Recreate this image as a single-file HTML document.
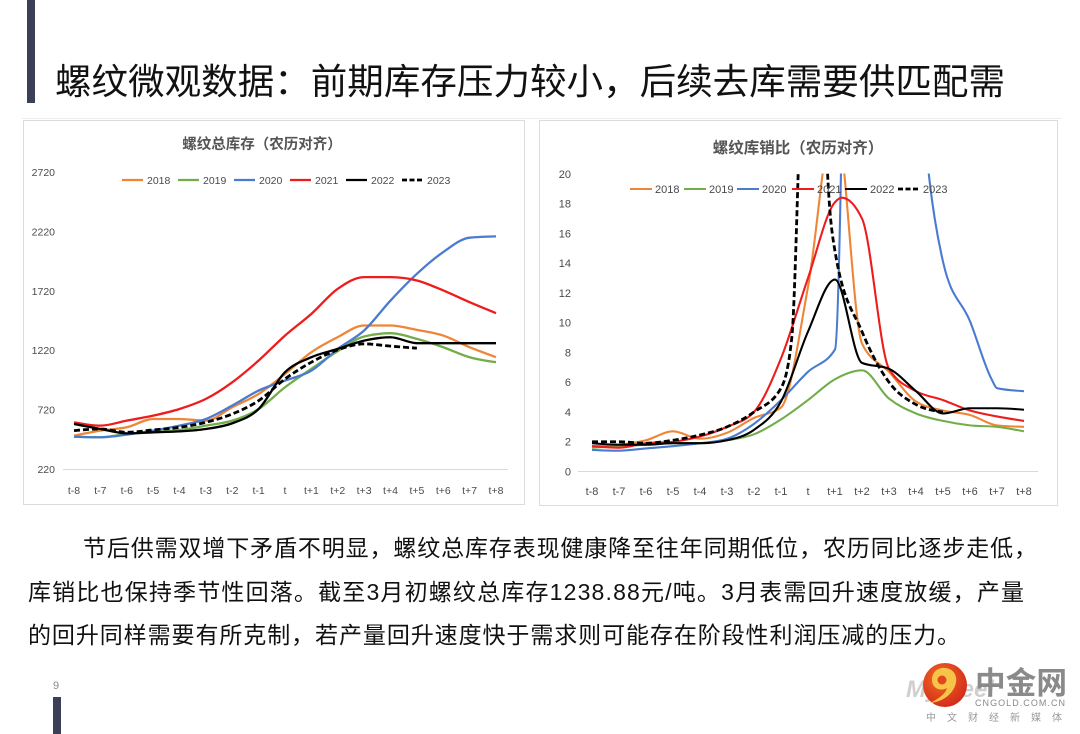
<!DOCTYPE html>
<html><head><meta charset="utf-8">
<style>
html,body{margin:0;padding:0;background:#fff;}
body{width:1080px;height:734px;overflow:hidden;position:relative;}
svg{position:absolute;left:0;top:0;}
</style></head>
<body>
<svg id="s" width="1080" height="734" viewBox="0 0 1080 734" xmlns="http://www.w3.org/2000/svg">
<defs>
  <clipPath id="cr"><rect x="578" y="173.5" width="462" height="300"/></clipPath>
  <clipPath id="cl"><rect x="60" y="160" width="450" height="312"/></clipPath>
  <radialGradient id="lg" cx="0.4" cy="0.35" r="0.7">
    <stop offset="0" stop-color="#f26b22"/><stop offset="1" stop-color="#d2281a"/>
  </radialGradient>
</defs>
<rect x="0" y="0" width="1080" height="734" fill="#fff"/>
<!-- header -->
<rect x="27" y="0" width="8" height="103" fill="#3c3f58"/>
<text x="55" y="94" font-family="'Liberation Sans','Noto Sans CJK SC',sans-serif" font-size="36" fill="#111" textLength="950" lengthAdjust="spacingAndGlyphs">螺纹微观数据：前期库存压力较小，后续去库需要供匹配需</text>
<line x1="22" y1="118.5" x2="1062" y2="118.5" stroke="#ececec" stroke-width="1"/>

<!-- chart boxes -->
<rect x="23.5" y="120.5" width="501" height="384" fill="#fff" stroke="#dcdcdc" stroke-width="1"/>
<rect x="539.5" y="120.5" width="518" height="385" fill="#fff" stroke="#dcdcdc" stroke-width="1"/>

<g id="left" font-family="'Liberation Sans','Noto Sans CJK SC',sans-serif" fill="#4a4a4a">
  <text x="262" y="149" font-size="14.5" font-weight="bold" text-anchor="middle" fill="#555">螺纹总库存（农历对齐）</text>
</g>
<g id="right" font-family="'Liberation Sans','Noto Sans CJK SC',sans-serif" fill="#4a4a4a">
  <text x="798" y="153" font-size="15.5" font-weight="bold" text-anchor="middle" fill="#555">螺纹库销比（农历对齐）</text>
</g>

<!-- paragraph -->
<g font-family="'Liberation Sans','Noto Sans CJK SC',sans-serif" font-size="23" fill="#111">
  <text x="83" y="556" textLength="954" lengthAdjust="spacing">节后供需双增下矛盾不明显，螺纹总库存表现健康降至往年同期低位，农历同比逐步走低，</text>
  <text x="28" y="600" textLength="996" lengthAdjust="spacing">库销比也保持季节性回落。截至3月初螺纹总库存1238.88元/吨。3月表需回升速度放缓，产量</text>
  <text x="28" y="643" textLength="932" lengthAdjust="spacing">的回升同样需要有所克制，若产量回升速度快于需求则可能存在阶段性利润压减的压力。</text>
</g>

<!-- footer -->
<text x="56" y="689" font-family="'Liberation Sans',sans-serif" font-size="11" fill="#888" text-anchor="middle">9</text>
<rect x="53" y="697" width="8" height="37" fill="#3c3f58"/>

<!-- logo -->
<text x="906" y="697" font-family="'Liberation Sans',sans-serif" font-size="24" font-weight="bold" font-style="italic" fill="#cfcfcf">Mysteel</text>
<circle cx="945" cy="685" r="22" fill="url(#lg)"/>
<path d="M942 668 C953 667 959 676 955 686 C951 696 941 702 930 703 C940 698 946 693 947 688 C940 692 932 688 932 680 C932 673 936 669 942 668 Z" fill="#f7c44a"/>
<circle cx="942" cy="680" r="4.5" fill="#e2461f"/>
<text x="975" y="694" font-family="'Noto Sans CJK SC',sans-serif" font-size="31" font-weight="bold" fill="#8a8a8a" textLength="92" lengthAdjust="spacingAndGlyphs">中金网</text>
<text x="975" y="706" font-family="'Liberation Sans',sans-serif" font-size="9" fill="#8a8a8a" textLength="90" lengthAdjust="spacing">CNGOLD.COM.CN</text>
<text x="926" y="721" font-family="'Noto Sans CJK SC',sans-serif" font-size="10" fill="#9a9a9a" textLength="136" lengthAdjust="spacing">中文财经新媒体</text>
</svg>

<script>
(function(){
var NS="http://www.w3.org/2000/svg";
var svg=document.getElementById('s');
function el(tag,attrs,parent,txt){var e=document.createElementNS(NS,tag);for(var k in attrs)e.setAttribute(k,attrs[k]);if(txt!==undefined)e.textContent=txt;(parent||svg).appendChild(e);return e;}
function slope3(x0,y0,x1,y1,x2,y2){var h0=x1-x0,h1=x2-x1,s0=(y1-y0)/h0,s1=(y2-y1)/h1,p=(s0*h1+s1*h0)/(h0+h1);return ((Math.sign(s0)+Math.sign(s1))*Math.min(Math.abs(s0),Math.abs(s1),0.5*Math.abs(p)))||0;}
function mono(pts){
  var n=pts.length,m=new Array(n),i;
  for(i=1;i<n-1;i++)m[i]=slope3(pts[i-1][0],pts[i-1][1],pts[i][0],pts[i][1],pts[i+1][0],pts[i+1][1]);
  var h=pts[1][0]-pts[0][0];m[0]=(3*(pts[1][1]-pts[0][1])/h-m[1])/2;
  h=pts[n-1][0]-pts[n-2][0];m[n-1]=(3*(pts[n-1][1]-pts[n-2][1])/h-m[n-2])/2;
  if(n==2){m[0]=m[1]=(pts[1][1]-pts[0][1])/h;}
  var d="M"+pts[0][0].toFixed(2)+","+pts[0][1].toFixed(2);
  for(i=0;i<n-1;i++){var x0=pts[i][0],y0=pts[i][1],x1=pts[i+1][0],y1=pts[i+1][1],dx=(x1-x0)/3;
    d+="C"+(x0+dx).toFixed(2)+","+(y0+dx*m[i]).toFixed(2)+","+(x1-dx).toFixed(2)+","+(y1-dx*m[i+1]).toFixed(2)+","+x1.toFixed(2)+","+y1.toFixed(2);}
  return d;
}
var COL={a:"#ef8537",b:"#72ad4a",c:"#4a7bcf",d:"#ee1c1c",e:"#000000",f:"#000000"};
var names=["2018","2019","2020","2021","2022","2023"],keys=["a","b","c","d","e","f"];
var xl=["t-8","t-7","t-6","t-5","t-4","t-3","t-2","t-1","t","t+1","t+2","t+3","t+4","t+5","t+6","t+7","t+8"];
function arr(a){return a.map(function(v,i){return [i-8,v];});}

/* LEFT CHART */
var gL=document.getElementById('left');
var LX=function(i){return 74+(i+8)*26.375;},LY=function(v){return 469-(v-220)*0.1188;};
[2720,2220,1720,1220,720,220].forEach(function(v){el('text',{x:55,y:(LY(v)+4).toFixed(1),'font-size':10.5,'text-anchor':'end'},gL,String(v));});
el('line',{x1:63,y1:469.5,x2:508,y2:469.5,stroke:'#d9d9d9','stroke-width':1},gL);
xl.forEach(function(t,i){el('text',{x:LX(i-8).toFixed(1),y:494,'font-size':10.5,'text-anchor':'middle'},gL,t);});
var Ld={
 a:arr([500,543,571,641,641,627,740,852,1020,1203,1330,1428,1428,1391,1343,1245,1161]),
 b:arr([492,487,515,529,549,585,627,725,908,1063,1212,1335,1363,1315,1245,1161,1119]),
 c:arr([492,487,509,543,585,641,754,880,964,1048,1231,1386,1638,1863,2046,2167,2178]),
 d:arr([613,585,627,669,725,810,950,1133,1343,1526,1737,1835,1835,1807,1723,1624,1532]),
 e:arr([599,557,520,529,537,557,605,725,1035,1161,1231,1301,1329,1279,1279,1279,1279]),
 f:arr([543,557,529,549,571,613,683,795,978,1119,1223,1273,1254,1237])
};
var gLl=el('g',{'clip-path':'url(#cl)'},gL);
keys.forEach(function(k){var p=Ld[k].map(function(q){return [LX(q[0]),LY(q[1])];});
  var a={d:mono(p),fill:'none',stroke:COL[k],'stroke-width':k=='f'?2.8:2.3,'stroke-linejoin':'round'};
  if(k=='f')a['stroke-dasharray']='6,3';el('path',a,gLl);});
var lxs=[122,178,234,290,346,402];
keys.forEach(function(k,i){var a={x1:lxs[i],y1:180,x2:lxs[i]+21,y2:180,stroke:COL[k],'stroke-width':k=='f'?2.8:2.2};
  if(k=='f')a['stroke-dasharray']='5,2.5';el('line',a,gL);
  el('text',{x:lxs[i]+25,y:184,'font-size':10.5},gL,names[i]);});

/* RIGHT CHART */
var gR=document.getElementById('right');
var RX=function(i){return 592+(i+8)*27;},RY=function(v){return 471.5-v*14.88;};
for(var v=0;v<=20;v+=2)el('text',{x:571,y:(RY(v)+4).toFixed(1),'font-size':11,'text-anchor':'end'},gR,String(v));
el('line',{x1:578,y1:471.5,x2:1038,y2:471.5,stroke:'#d9d9d9','stroke-width':1},gR);
xl.forEach(function(t,i){el('text',{x:RX(i-8).toFixed(1),y:495,'font-size':11,'text-anchor':'middle'},gR,t);});
var Rd={
 a:arr([1.7,1.8,2.1,2.7,2.2,2.6,3.6,4.3,12.4,24,8.6,6.7,4.7,4.1,3.8,3.1,3.0]),
 b:arr([1.6,1.7,1.8,1.9,1.9,2.1,2.5,3.5,4.8,6.2,6.8,4.9,3.9,3.4,3.1,3.0,2.7]),
 c:[[-8,1.45],[-7,1.4],[-6,1.55],[-5,1.7],[-4,1.9],[-3,2.2],[-2,3.2],[-1,4.8],[0,6.7],[1,8.2],[2,100],[3,100],[4,32],[5,14.1],[6,10.1],[6.8,6.2],[7,5.6],[8,5.4]],
 d:[[-8,1.7],[-7,1.6],[-6,1.9],[-5,2.0],[-4,2.35],[-3,3.0],[-2,4.0],[-1,7.6],[0,13.0],[1,18.1],[1.25,18.4],[2,17.0],[3,6.9],[4,5.4],[5,4.8],[6,4.1],[7,3.7],[8,3.4]],
 e:arr([1.9,1.8,1.8,1.9,1.9,2.1,2.8,4.7,9.4,12.9,7.3,6.9,5.4,3.9,4.25,4.25,4.15]),
 f:[[-8,2.0],[-7,2.0],[-6,1.9],[-5,2.1],[-4,2.45],[-3,3.0],[-2,4.0],[-1,5.6],[-0.6,9],[-0.33,22],[0.2,60],[0.7,21],[1,14.8],[2,9.4],[3,6.0],[4,4.5],[5,4.0]]
};
var gRl=el('g',{'clip-path':'url(#cr)'},gR);
keys.forEach(function(k){var p=Rd[k].map(function(q){return [RX(q[0]),RY(q[1])];});
  var a={d:mono(p),fill:'none',stroke:COL[k],'stroke-width':k=='f'?2.8:2.1,'stroke-linejoin':'round'};
  if(k=='f')a['stroke-dasharray']='6,3';el('path',a,gRl);});
var rxs=[630,684,737,792,845,898];
keys.forEach(function(k,i){var a={x1:rxs[i],y1:189,x2:rxs[i]+22,y2:189,stroke:COL[k],'stroke-width':k=='f'?2.8:2.1};
  if(k=='f')a['stroke-dasharray']='5,2.5';el('line',a,gR);
  el('text',{x:rxs[i]+25,y:193,'font-size':11},gR,names[i]);});
})();
</script>
</body></html>
